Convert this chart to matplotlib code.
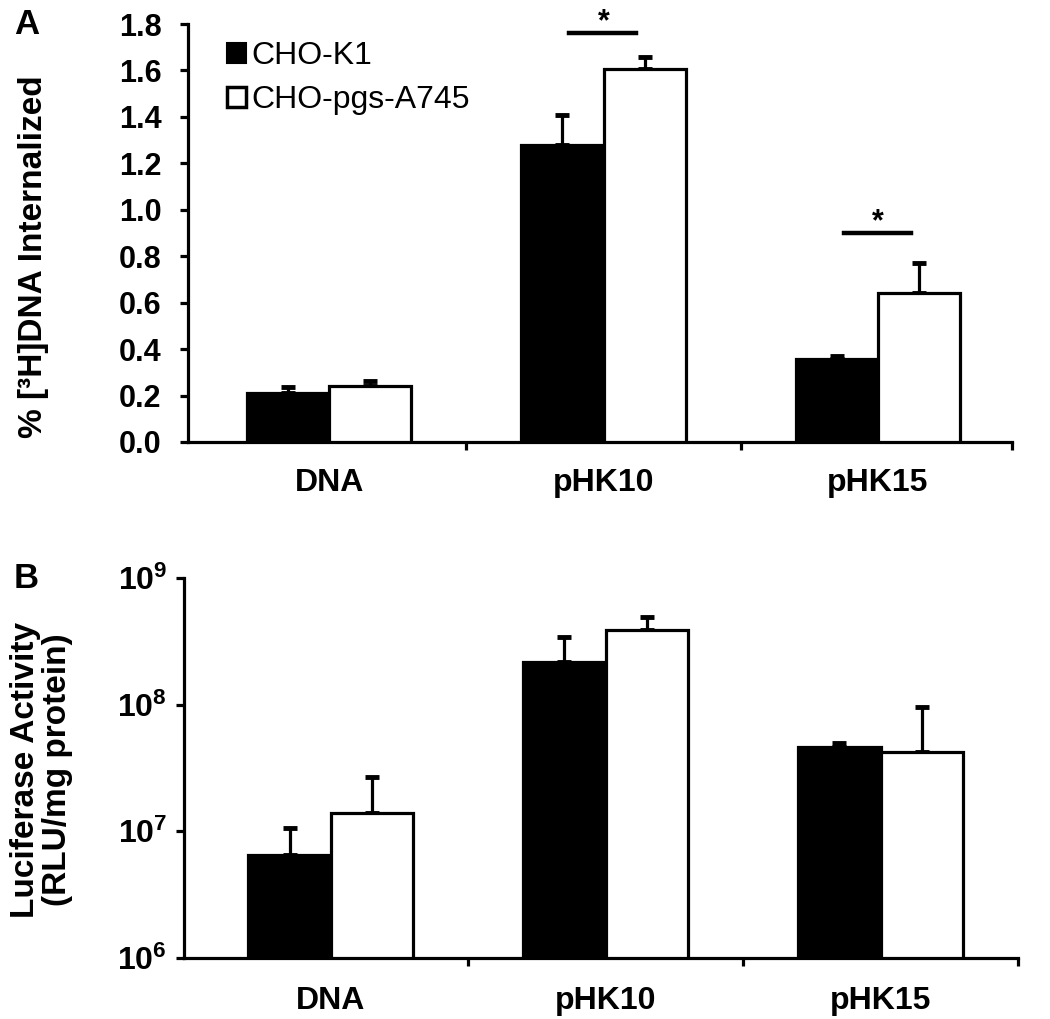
import numpy as np
import matplotlib
matplotlib.use('Agg')
import matplotlib.pyplot as plt
from matplotlib.patches import Patch
from matplotlib.ticker import FixedLocator, NullLocator

plt.rcParams['font.family'] = ['Liberation Sans', 'DejaVu Sans']
plt.rcParams['mathtext.fontset'] = 'custom'
plt.rcParams['mathtext.rm'] = 'Liberation Sans'
plt.rcParams['mathtext.bf'] = 'Liberation Sans:bold'

# Data
categories = ['DNA', 'pHK10', 'pHK15']
series = ['CHO-K1', 'CHO-pgs-A745']

# Panel A: % [3H]DNA internalized
uptake_k1 = [0.21, 1.28, 0.357]
uptake_k1_err = [0.025, 0.13, 0.015]
uptake_pgs = [0.241, 1.606, 0.642]
uptake_pgs_err = [0.022, 0.052, 0.13]
sig_groups = [1, 2]
sig_heights = [1.76, 0.90]

# Panel B: luciferase activity (RLU/mg protein)
luc_k1 = [6.5e6, 2.17e8, 4.6e7]
luc_k1_err = [4.1e6, 1.25e8, 4.0e6]
luc_pgs = [1.39e7, 3.9e8, 4.2e7]
luc_pgs_err = [1.3e7, 1.0e8, 5.4e7]

fig = plt.figure(figsize=(10.5, 10.19), dpi=100)
axA = fig.add_axes([0.179, 0.5663, 0.785, 0.4101])
axB = fig.add_axes([0.175, 0.0599, 0.7945, 0.3729])

lw = 2.3
w = 0.3
x = np.arange(len(categories))


def draw(ax, v1, e1, v2, e2, base, xlim):
    for vals, errs, col, off in [(v1, e1, 'black', -w / 2), (v2, e2, 'white', w / 2)]:
        ax.bar(x + off, np.array(vals) - base, w, bottom=base, color=col,
               edgecolor='black', linewidth=lw, zorder=3)
        ax.errorbar(x + off, vals, yerr=[np.zeros(len(vals)), errs], fmt='none',
                    ecolor='black', elinewidth=lw, capsize=5, capthick=3.5, zorder=2)
    ax.set_xlim(*xlim)
    for s in ['top', 'right']:
        ax.spines[s].set_visible(False)
    for s in ['left', 'bottom']:
        ax.spines[s].set_linewidth(lw)
    ax.set_xticks(x)
    ax.set_xticklabels(categories, fontsize=23, fontweight='bold')
    ax.xaxis.set_minor_locator(FixedLocator([0.5, 1.5, xlim[1]]))
    ax.tick_params(axis='x', which='minor', length=6, width=lw, direction='out')
    ax.tick_params(axis='y', which='major', length=6, width=lw, direction='out')


# Panel A
draw(axA, uptake_k1, uptake_k1_err, uptake_pgs, uptake_pgs_err, 0, (-0.515, 2.49))
axA.tick_params(axis='x', which='major', length=0, pad=19)
axA.set_ylim(0, 1.8)
ticksA = np.arange(0, 1.81, 0.2)
axA.set_yticks(ticksA)
axA.set_yticklabels(['%.1f' % v for v in ticksA], fontsize=22, fontweight='bold')
axA.tick_params(axis='y', pad=13)
axA.set_ylabel('% [³H]DNA Internalized', fontsize=24, fontweight='bold')
axA.yaxis.set_label_coords(-0.168, 0.443)
for g, h in zip(sig_groups, sig_heights):
    axA.plot([g - 0.125, g + 0.12], [h, h], color='black', lw=3.2, clip_on=False)
    axA.text(g, h + 0.012, '*', ha='center', va='baseline', fontsize=22,
             fontweight='bold', clip_on=False)
handles = [Patch(facecolor='black', edgecolor='black', linewidth=1.5),
           Patch(facecolor='white', edgecolor='black', linewidth=2.5)]
axA.legend(handles, series, loc='upper left', bbox_to_anchor=(0.032, 0.99),
           frameon=False, fontsize=23, handlelength=0.6, handleheight=0.6,
           handletextpad=0.15, labelspacing=0.45, borderaxespad=0)

# Panel B
draw(axB, luc_k1, luc_k1_err, luc_pgs, luc_pgs_err, 1e6, (-0.535, 2.5))
axB.tick_params(axis='x', which='major', length=0, pad=20)
axB.set_yscale('log')
axB.set_ylim(1e6, 1e9)
axB.yaxis.set_major_locator(FixedLocator([1e6, 1e7, 1e8, 1e9]))
axB.yaxis.set_minor_locator(NullLocator())
axB.set_yticklabels([r'$\mathbf{10^{%d}}$' % p for p in [6, 7, 8, 9]], fontsize=23)
axB.tick_params(axis='y', pad=6)
axB.set_ylabel('Luciferase Activity\n(RLU/mg protein)', fontsize=24,
               fontweight='bold', linespacing=1.05)
axB.yaxis.set_label_coords(-0.133, 0.495)

fig.text(0.013, 0.992, 'A', fontsize=25, fontweight='bold', va='top')
fig.text(0.013, 0.448, 'B', fontsize=25, fontweight='bold', va='top')

fig.savefig('out.png', dpi=100)
